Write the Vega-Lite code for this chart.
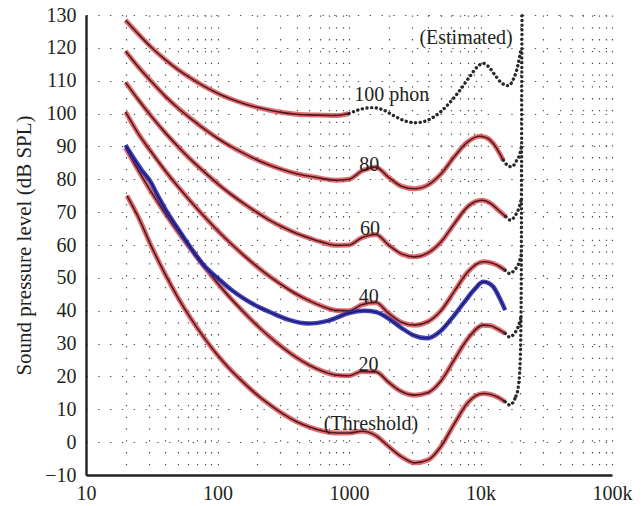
{
  "$schema": "https://vega.github.io/schema/vega-lite/v6.json",
  "width": 526,
  "height": 460,
  "autosize": "none",
  "padding": {"left": 86, "top": 15, "right": 30, "bottom": 31},
  "config": {
    "view": {"stroke": null},
    "font": "Liberation Serif",
    "axis": {
      "labelFont": "Liberation Serif",
      "titleFont": "Liberation Serif",
      "labelColor": "#231f20",
      "titleColor": "#231f20",
      "domainColor": "#231f20",
      "domainWidth": 2.4,
      "ticks": false,
      "grid": true,
      "gridColor": "#4a4a4a",
      "gridWidth": 1.2,
      "gridDash": [1.3, 10.5],
      "labelFontSize": 20,
      "titleFontSize": 21,
      "titleFontWeight": "normal",
      "labelOverlap": false
    }
  },
  "datasets": {
    "curves": [
      {"curve": "Threshold", "f": 20.5, "L": 75},
      {"curve": "Threshold", "f": 25, "L": 68.5},
      {"curve": "Threshold", "f": 31.5, "L": 59.5},
      {"curve": "Threshold", "f": 40, "L": 51.1},
      {"curve": "Threshold", "f": 50, "L": 44},
      {"curve": "Threshold", "f": 63, "L": 37.5},
      {"curve": "Threshold", "f": 80, "L": 31.5},
      {"curve": "Threshold", "f": 100, "L": 26.5},
      {"curve": "Threshold", "f": 125, "L": 22.1},
      {"curve": "Threshold", "f": 160, "L": 17.9},
      {"curve": "Threshold", "f": 200, "L": 14.4},
      {"curve": "Threshold", "f": 250, "L": 11.4},
      {"curve": "Threshold", "f": 315, "L": 8.6},
      {"curve": "Threshold", "f": 400, "L": 6.2},
      {"curve": "Threshold", "f": 500, "L": 4.6},
      {"curve": "Threshold", "f": 630, "L": 3.4},
      {"curve": "Threshold", "f": 800, "L": 2.8},
      {"curve": "Threshold", "f": 1000, "L": 2.8},
      {"curve": "Threshold", "f": 1250, "L": 3.3},
      {"curve": "Threshold", "f": 1600, "L": 2.0},
      {"curve": "Threshold", "f": 2000, "L": -1.3},
      {"curve": "Threshold", "f": 2500, "L": -4.4},
      {"curve": "Threshold", "f": 3150, "L": -6.3},
      {"curve": "Threshold", "f": 4000, "L": -5.4},
      {"curve": "Threshold", "f": 5000, "L": -1.3},
      {"curve": "Threshold", "f": 6300, "L": 5.5},
      {"curve": "Threshold", "f": 8000, "L": 12.0},
      {"curve": "Threshold", "f": 10500, "L": 14.8},
      {"curve": "Threshold", "f": 12000, "L": 14.5},
      {"curve": "Threshold", "f": 13300, "L": 13.8},
      {"curve": "Threshold", "f": 15400, "L": 12.3},

      {"curve": "20 phon", "f": 20, "L": 89.6},
      {"curve": "20 phon", "f": 25, "L": 82.7},
      {"curve": "20 phon", "f": 31.5, "L": 76.0},
      {"curve": "20 phon", "f": 40, "L": 69.6},
      {"curve": "20 phon", "f": 50, "L": 64.0},
      {"curve": "20 phon", "f": 63, "L": 58.6},
      {"curve": "20 phon", "f": 80, "L": 53.2},
      {"curve": "20 phon", "f": 100, "L": 48.4},
      {"curve": "20 phon", "f": 125, "L": 43.9},
      {"curve": "20 phon", "f": 160, "L": 39.4},
      {"curve": "20 phon", "f": 200, "L": 35.5},
      {"curve": "20 phon", "f": 250, "L": 32.0},
      {"curve": "20 phon", "f": 315, "L": 28.7},
      {"curve": "20 phon", "f": 400, "L": 25.7},
      {"curve": "20 phon", "f": 500, "L": 23.4},
      {"curve": "20 phon", "f": 630, "L": 21.6},
      {"curve": "20 phon", "f": 800, "L": 20.4},
      {"curve": "20 phon", "f": 1000, "L": 20.2},
      {"curve": "20 phon", "f": 1250, "L": 21.5},
      {"curve": "20 phon", "f": 1600, "L": 21.4},
      {"curve": "20 phon", "f": 2000, "L": 18.2},
      {"curve": "20 phon", "f": 2500, "L": 15.4},
      {"curve": "20 phon", "f": 3150, "L": 14.3},
      {"curve": "20 phon", "f": 4000, "L": 15.1},
      {"curve": "20 phon", "f": 5000, "L": 18.6},
      {"curve": "20 phon", "f": 6300, "L": 25.0},
      {"curve": "20 phon", "f": 8000, "L": 31.5},
      {"curve": "20 phon", "f": 10500, "L": 35.6},
      {"curve": "20 phon", "f": 12000, "L": 35.4},
      {"curve": "20 phon", "f": 13300, "L": 34.6},
      {"curve": "20 phon", "f": 15400, "L": 33.1},

      {"curve": "40 phon", "f": 20, "L": 100.5},
      {"curve": "40 phon", "f": 25, "L": 93.9},
      {"curve": "40 phon", "f": 31.5, "L": 88.2},
      {"curve": "40 phon", "f": 40, "L": 82.6},
      {"curve": "40 phon", "f": 50, "L": 77.8},
      {"curve": "40 phon", "f": 63, "L": 73.1},
      {"curve": "40 phon", "f": 80, "L": 68.5},
      {"curve": "40 phon", "f": 100, "L": 64.4},
      {"curve": "40 phon", "f": 125, "L": 60.6},
      {"curve": "40 phon", "f": 160, "L": 56.7},
      {"curve": "40 phon", "f": 200, "L": 53.4},
      {"curve": "40 phon", "f": 250, "L": 50.4},
      {"curve": "40 phon", "f": 315, "L": 47.6},
      {"curve": "40 phon", "f": 400, "L": 45.0},
      {"curve": "40 phon", "f": 500, "L": 43.0},
      {"curve": "40 phon", "f": 630, "L": 41.3},
      {"curve": "40 phon", "f": 800, "L": 40.1},
      {"curve": "40 phon", "f": 1000, "L": 40.0},
      {"curve": "40 phon", "f": 1250, "L": 41.8},
      {"curve": "40 phon", "f": 1600, "L": 42.5},
      {"curve": "40 phon", "f": 2000, "L": 39.2},
      {"curve": "40 phon", "f": 2500, "L": 36.5},
      {"curve": "40 phon", "f": 3150, "L": 35.6},
      {"curve": "40 phon", "f": 4000, "L": 36.7},
      {"curve": "40 phon", "f": 5000, "L": 40.0},
      {"curve": "40 phon", "f": 6300, "L": 45.8},
      {"curve": "40 phon", "f": 8000, "L": 51.8},
      {"curve": "40 phon", "f": 10500, "L": 54.9},
      {"curve": "40 phon", "f": 12000, "L": 54.6},
      {"curve": "40 phon", "f": 13300, "L": 53.9},
      {"curve": "40 phon", "f": 15400, "L": 52.3},

      {"curve": "60 phon", "f": 20, "L": 109.5},
      {"curve": "60 phon", "f": 25, "L": 104.2},
      {"curve": "60 phon", "f": 31.5, "L": 99.1},
      {"curve": "60 phon", "f": 40, "L": 94.2},
      {"curve": "60 phon", "f": 50, "L": 90.0},
      {"curve": "60 phon", "f": 63, "L": 85.9},
      {"curve": "60 phon", "f": 80, "L": 82.1},
      {"curve": "60 phon", "f": 100, "L": 78.7},
      {"curve": "60 phon", "f": 125, "L": 75.6},
      {"curve": "60 phon", "f": 160, "L": 72.5},
      {"curve": "60 phon", "f": 200, "L": 69.9},
      {"curve": "60 phon", "f": 250, "L": 67.5},
      {"curve": "60 phon", "f": 315, "L": 65.4},
      {"curve": "60 phon", "f": 400, "L": 63.5},
      {"curve": "60 phon", "f": 500, "L": 62.1},
      {"curve": "60 phon", "f": 630, "L": 60.8},
      {"curve": "60 phon", "f": 800, "L": 59.9},
      {"curve": "60 phon", "f": 1000, "L": 60.0},
      {"curve": "60 phon", "f": 1250, "L": 62.2},
      {"curve": "60 phon", "f": 1600, "L": 63.2},
      {"curve": "60 phon", "f": 2000, "L": 60.0},
      {"curve": "60 phon", "f": 2500, "L": 57.3},
      {"curve": "60 phon", "f": 3150, "L": 56.4},
      {"curve": "60 phon", "f": 4000, "L": 57.6},
      {"curve": "60 phon", "f": 5000, "L": 60.9},
      {"curve": "60 phon", "f": 6300, "L": 66.4},
      {"curve": "60 phon", "f": 8000, "L": 71.7},
      {"curve": "60 phon", "f": 10200, "L": 73.6},
      {"curve": "60 phon", "f": 12000, "L": 72.6},
      {"curve": "60 phon", "f": 13500, "L": 70.8},
      {"curve": "60 phon", "f": 15600, "L": 68.6},

      {"curve": "80 phon", "f": 20, "L": 119.0},
      {"curve": "80 phon", "f": 25, "L": 114.2},
      {"curve": "80 phon", "f": 31.5, "L": 109.7},
      {"curve": "80 phon", "f": 40, "L": 105.3},
      {"curve": "80 phon", "f": 50, "L": 101.7},
      {"curve": "80 phon", "f": 63, "L": 98.4},
      {"curve": "80 phon", "f": 80, "L": 95.2},
      {"curve": "80 phon", "f": 100, "L": 92.5},
      {"curve": "80 phon", "f": 125, "L": 90.1},
      {"curve": "80 phon", "f": 160, "L": 87.8},
      {"curve": "80 phon", "f": 200, "L": 85.9},
      {"curve": "80 phon", "f": 250, "L": 84.3},
      {"curve": "80 phon", "f": 315, "L": 82.9},
      {"curve": "80 phon", "f": 400, "L": 81.7},
      {"curve": "80 phon", "f": 500, "L": 80.9},
      {"curve": "80 phon", "f": 630, "L": 80.2},
      {"curve": "80 phon", "f": 800, "L": 79.7},
      {"curve": "80 phon", "f": 1000, "L": 80.0},
      {"curve": "80 phon", "f": 1250, "L": 82.5},
      {"curve": "80 phon", "f": 1600, "L": 83.7},
      {"curve": "80 phon", "f": 2000, "L": 80.6},
      {"curve": "80 phon", "f": 2500, "L": 77.9},
      {"curve": "80 phon", "f": 3150, "L": 77.1},
      {"curve": "80 phon", "f": 4000, "L": 78.3},
      {"curve": "80 phon", "f": 5000, "L": 81.6},
      {"curve": "80 phon", "f": 6300, "L": 86.8},
      {"curve": "80 phon", "f": 8000, "L": 91.4},
      {"curve": "80 phon", "f": 9900, "L": 93.1},
      {"curve": "80 phon", "f": 11200, "L": 92.6},
      {"curve": "80 phon", "f": 12500, "L": 90.9},
      {"curve": "80 phon", "f": 14900, "L": 85.8},

      {"curve": "100 phon", "f": 20, "L": 128.4},
      {"curve": "100 phon", "f": 25, "L": 124.2},
      {"curve": "100 phon", "f": 31.5, "L": 120.1},
      {"curve": "100 phon", "f": 40, "L": 116.4},
      {"curve": "100 phon", "f": 50, "L": 113.4},
      {"curve": "100 phon", "f": 63, "L": 110.7},
      {"curve": "100 phon", "f": 80, "L": 108.2},
      {"curve": "100 phon", "f": 100, "L": 106.2},
      {"curve": "100 phon", "f": 125, "L": 104.5},
      {"curve": "100 phon", "f": 160, "L": 103.0},
      {"curve": "100 phon", "f": 200, "L": 101.9},
      {"curve": "100 phon", "f": 250, "L": 101.0},
      {"curve": "100 phon", "f": 315, "L": 100.3},
      {"curve": "100 phon", "f": 400, "L": 99.8},
      {"curve": "100 phon", "f": 500, "L": 99.6},
      {"curve": "100 phon", "f": 630, "L": 99.5},
      {"curve": "100 phon", "f": 800, "L": 99.4},
      {"curve": "100 phon", "f": 1000, "L": 100.0},

      {"curve": "Original 40 phon", "f": 20, "L": 90.4},
      {"curve": "Original 40 phon", "f": 23, "L": 86.5},
      {"curve": "Original 40 phon", "f": 26.5, "L": 82.8},
      {"curve": "Original 40 phon", "f": 30.7, "L": 79.5},
      {"curve": "Original 40 phon", "f": 35, "L": 75.2},
      {"curve": "Original 40 phon", "f": 40, "L": 71.0},
      {"curve": "Original 40 phon", "f": 50, "L": 65.0},
      {"curve": "Original 40 phon", "f": 63, "L": 59.0},
      {"curve": "Original 40 phon", "f": 80, "L": 53.5},
      {"curve": "Original 40 phon", "f": 100, "L": 50.0},
      {"curve": "Original 40 phon", "f": 128, "L": 46.3},
      {"curve": "Original 40 phon", "f": 160, "L": 43.6},
      {"curve": "Original 40 phon", "f": 204, "L": 41.2},
      {"curve": "Original 40 phon", "f": 250, "L": 39.6},
      {"curve": "Original 40 phon", "f": 345, "L": 37.3},
      {"curve": "Original 40 phon", "f": 490, "L": 36.1},
      {"curve": "Original 40 phon", "f": 700, "L": 37.0},
      {"curve": "Original 40 phon", "f": 1000, "L": 39.3},
      {"curve": "Original 40 phon", "f": 1300, "L": 40.0},
      {"curve": "Original 40 phon", "f": 1600, "L": 39.6},
      {"curve": "Original 40 phon", "f": 2000, "L": 37.6},
      {"curve": "Original 40 phon", "f": 2500, "L": 34.8},
      {"curve": "Original 40 phon", "f": 3100, "L": 32.5},
      {"curve": "Original 40 phon", "f": 3900, "L": 31.6},
      {"curve": "Original 40 phon", "f": 4900, "L": 33.6},
      {"curve": "Original 40 phon", "f": 6000, "L": 37.5},
      {"curve": "Original 40 phon", "f": 7400, "L": 42.2},
      {"curve": "Original 40 phon", "f": 9000, "L": 46.5},
      {"curve": "Original 40 phon", "f": 10500, "L": 48.8},
      {"curve": "Original 40 phon", "f": 11500, "L": 48.4},
      {"curve": "Original 40 phon", "f": 12500, "L": 47.3},
      {"curve": "Original 40 phon", "f": 14000, "L": 43.8},
      {"curve": "Original 40 phon", "f": 15400, "L": 40.2}
    ],
    "estimated": [
      {"curve": "Threshold", "f": 15400, "L": 12.3},
      {"curve": "Threshold", "f": 16700, "L": 11.3},
      {"curve": "Threshold", "f": 17800, "L": 12.3},
      {"curve": "Threshold", "f": 18600, "L": 14.0},
      {"curve": "20 phon", "f": 15400, "L": 33.1},
      {"curve": "20 phon", "f": 16700, "L": 32.0},
      {"curve": "20 phon", "f": 18000, "L": 33.0},
      {"curve": "20 phon", "f": 19500, "L": 35.5},
      {"curve": "20 phon", "f": 20300, "L": 38.0},
      {"curve": "40 phon", "f": 15400, "L": 52.3},
      {"curve": "40 phon", "f": 16700, "L": 51.3},
      {"curve": "40 phon", "f": 18200, "L": 52.5},
      {"curve": "40 phon", "f": 19600, "L": 54.5},
      {"curve": "40 phon", "f": 20400, "L": 57.0},
      {"curve": "60 phon", "f": 15600, "L": 68.6},
      {"curve": "60 phon", "f": 16800, "L": 67.6},
      {"curve": "60 phon", "f": 18400, "L": 69.0},
      {"curve": "60 phon", "f": 19700, "L": 71.5},
      {"curve": "60 phon", "f": 20450, "L": 74.0},
      {"curve": "80 phon", "f": 14900, "L": 85.8},
      {"curve": "80 phon", "f": 16000, "L": 84.3},
      {"curve": "80 phon", "f": 17300, "L": 83.8},
      {"curve": "80 phon", "f": 18700, "L": 85.5},
      {"curve": "80 phon", "f": 20000, "L": 88.0},
      {"curve": "80 phon", "f": 20500, "L": 90.0},
      {"curve": "100 phon", "f": 1000, "L": 100.0},
      {"curve": "100 phon", "f": 1200, "L": 101.2},
      {"curve": "100 phon", "f": 1500, "L": 101.8},
      {"curve": "100 phon", "f": 1800, "L": 101.2},
      {"curve": "100 phon", "f": 2200, "L": 99.3},
      {"curve": "100 phon", "f": 2700, "L": 97.7},
      {"curve": "100 phon", "f": 3200, "L": 97.2},
      {"curve": "100 phon", "f": 3800, "L": 97.7},
      {"curve": "100 phon", "f": 4500, "L": 99.2},
      {"curve": "100 phon", "f": 5500, "L": 102.2},
      {"curve": "100 phon", "f": 6800, "L": 106.5},
      {"curve": "100 phon", "f": 8300, "L": 111.3},
      {"curve": "100 phon", "f": 9500, "L": 114.3},
      {"curve": "100 phon", "f": 10500, "L": 115.3},
      {"curve": "100 phon", "f": 11500, "L": 114.3},
      {"curve": "100 phon", "f": 13000, "L": 111.5},
      {"curve": "100 phon", "f": 14500, "L": 109.3},
      {"curve": "100 phon", "f": 16300, "L": 108.5},
      {"curve": "100 phon", "f": 17800, "L": 110.5},
      {"curve": "100 phon", "f": 19200, "L": 114.5},
      {"curve": "100 phon", "f": 20300, "L": 119.5},
      {"curve": "Limit", "f": 18600, "L": 14.0},
      {"curve": "Limit", "f": 19400, "L": 17.0},
      {"curve": "Limit", "f": 19900, "L": 22.0},
      {"curve": "Limit", "f": 20200, "L": 30.0},
      {"curve": "Limit", "f": 20350, "L": 40.0},
      {"curve": "Limit", "f": 20450, "L": 55.0},
      {"curve": "Limit", "f": 20500, "L": 70.0},
      {"curve": "Limit", "f": 20550, "L": 90.0},
      {"curve": "Limit", "f": 20600, "L": 110.0},
      {"curve": "Limit", "f": 20700, "L": 130.0}
    ],
    "labels": [
      {"text": "100 phon", "f": 2113, "L": 105.6},
      {"text": "80", "f": 1427, "L": 84.5},
      {"text": "60", "f": 1443, "L": 65.0},
      {"text": "40", "f": 1415, "L": 44.2},
      {"text": "20", "f": 1410, "L": 23.6},
      {"text": "(Threshold)", "f": 1470, "L": 5.6},
      {"text": "(Estimated)", "f": 7762, "L": 122.9}
    ]
  },
  "encoding": {
    "x": {
      "field": "f", "type": "quantitative",
      "scale": {"type": "log", "domain": [10, 100000], "nice": false},
      "axis": {
        "title": null,
        "values": [10, 20, 30, 40, 50, 60, 70, 80, 90, 100, 200, 300, 400, 500, 600, 700, 800, 900, 1000, 2000, 3000, 4000, 5000, 6000, 7000, 8000, 9000, 10000, 20000, 30000, 40000, 50000, 60000, 70000, 80000, 90000, 100000],
        "labelExpr": "datum.value == 10 ? '10' : datum.value == 100 ? '100' : datum.value == 1000 ? '1000' : datum.value == 10000 ? '10k' : datum.value == 100000 ? '100k' : ''",
        "labelPadding": 8,
        "labelOverlap": false,
        "labelBound": false,
        "labelFlush": false
      }
    },
    "y": {
      "field": "L", "type": "quantitative",
      "scale": {"domain": [-10, 130], "nice": false, "zero": false},
      "axis": {
        "title": "Sound pressure level (dB SPL)",
        "values": [-10, 0, 10, 20, 30, 40, 50, 60, 70, 80, 90, 100, 110, 120, 130],
        "labelExpr": "datum.value < 0 ? '\u2212' + abs(datum.value) : '' + datum.value",
        "labelPadding": 10,
        "labelOverlap": false,
        "labelBound": false,
        "labelFlush": false,
        "titlePadding": 10
      }
    }
  },
  "layer": [
    {
      "data": {"name": "curves"},
      "transform": [{"filter": "datum.curve != 'Original 40 phon'"}],
      "mark": {"type": "line", "interpolate": "monotone", "strokeWidth": 5, "color": "#d8363c", "opacity": 0.72},
      "encoding": {"detail": {"field": "curve"}}
    },
    {
      "data": {"name": "curves"},
      "transform": [{"filter": "datum.curve != 'Original 40 phon'"}],
      "mark": {"type": "line", "interpolate": "monotone", "strokeWidth": 1.6, "color": "#4e1a1d"},
      "encoding": {"detail": {"field": "curve"}}
    },
    {
      "data": {"name": "curves"},
      "transform": [{"filter": "datum.curve == 'Original 40 phon'"}],
      "mark": {"type": "line", "interpolate": "monotone", "strokeWidth": 4.5, "color": "#2e2eb8", "opacity": 0.9},
      "encoding": {}
    },
    {
      "data": {"name": "curves"},
      "transform": [{"filter": "datum.curve == 'Original 40 phon'"}],
      "mark": {"type": "line", "interpolate": "monotone", "strokeWidth": 1.4, "color": "#1b1b62"},
      "encoding": {}
    },
    {
      "data": {"name": "estimated"},
      "mark": {"type": "line", "interpolate": "monotone", "strokeWidth": 3.4, "strokeCap": "round", "strokeDash": [0.1, 4.6], "color": "#2a2a2a"},
      "encoding": {"detail": {"field": "curve"}}
    },
    {
      "data": {"name": "labels"},
      "mark": {"type": "text", "font": "Liberation Serif", "fontSize": 20, "color": "#231f20", "align": "center", "baseline": "middle"},
      "encoding": {"text": {"field": "text"}}
    }
  ]
}
